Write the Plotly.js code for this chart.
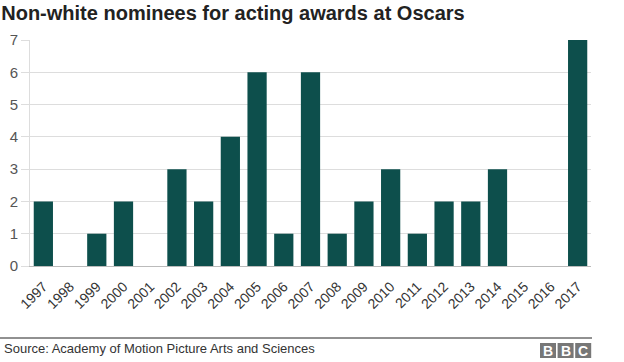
<!DOCTYPE html>
<html>
<head>
<meta charset="utf-8">
<script src="https://cdn.plot.ly/plotly-3.0.1.min.js"></script>
<style>html,body{margin:0;padding:0;background:#fff;}#chart{width:624px;height:362px;}</style>
</head>
<body>
<div id="chart"></div>
<script>
const years = ["1997","1998","1999","2000","2001","2002","2003","2004","2005","2006","2007","2008","2009","2010","2011","2012","2013","2014","2015","2016","2017"];
const nominees = [2,0,1,2,0,3,2,4,6,1,6,1,2,3,1,2,2,3,0,0,7];
const yTicks = [0,1,2,3,4,5,6,7];

const font = "Liberation Sans, Arial, Helvetica, sans-serif";

const trace = {
  type: "bar",
  x: years,
  y: nominees,
  marker: {color: "#0d4f4c"},
  hoverinfo: "x+y"
};

const shapes = [
  {type:"line", xref:"paper", yref:"paper", x0:-0.0535, x1:1.0018, y0:-0.3186, y1:-0.3186, line:{color:"#222", width:1}}
];
const annotations = [
  {xref:"paper", yref:"paper", x:-0.05, y:-0.367, xanchor:"left", yanchor:"middle", text:"Source: Academy of Motion Picture Arts and Sciences", showarrow:false, font:{family:font, size:13, color:"#333"}}
];
const letters = ["B","B","C"];
for (let i = 0; i < 3; i++) {
  const px0 = 540 + i*17.6;
  const px1 = px0 + 16;
  const x0 = (px0 - 30)/561, x1 = (px1 - 30)/561;
  shapes.push({type:"rect", xref:"paper", yref:"paper", x0:x0, x1:x1, y0:(266-343)/226, y1:(266-358)/226, fillcolor:"#777", line:{width:0}});
  annotations.push({xref:"paper", yref:"paper", x:(x0+x1)/2, y:(266-350.5)/226, xanchor:"center", yanchor:"middle", text:"<b>"+letters[i]+"</b>", showarrow:false, font:{family:font, size:14, color:"#fff"}});
}

const layout = {
  width: 624,
  height: 362,
  margin: {l:30, r:33, t:40, b:96},
  paper_bgcolor: "#fff",
  plot_bgcolor: "#fff",
  showlegend: false,
  bargap: 0.28,
  title: {
    text: "<b>Non-white nominees for acting awards at Oscars</b>",
    x: 0.002, xref: "container", xanchor: "left",
    y: 0.965, yref: "container", yanchor: "middle",
    font: {family: font, size: 20, color: "#222"}
  },
  xaxis: {
    type: "category",
    tickangle: -45,
    tickfont: {family: font, size: 14, color: "#333"},
    ticklabelstandoff: 6,
    showgrid: false,
    showline: true,
    linecolor: "#bbb",
    linewidth: 1,
    ticks: "",
    fixedrange: true
  },
  yaxis: {
    range: [0, 7],
    tickvals: yTicks,
    ticktext: yTicks.map(String),
    tickfont: {family: font, size: 15, color: "#555"},
    showgrid: true,
    gridcolor: "#ddd",
    gridwidth: 1,
    zeroline: false,
    showline: true,
    linecolor: "#ddd",
    ticks: "outside",
    ticklen: 8,
    tickcolor: "#ddd",
    fixedrange: true
  },
  shapes: shapes,
  annotations: annotations
};

Plotly.newPlot("chart", [trace], layout, {displayModeBar: false, staticPlot: true});
</script>
</body>
</html>
